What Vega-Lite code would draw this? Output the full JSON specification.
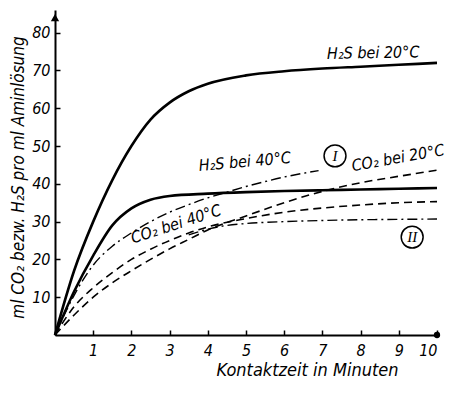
{
  "$schema": "https://vega.github.io/schema/vega-lite/v6.json",
  "width": 382,
  "height": 325,
  "autosize": {"type": "none"},
  "padding": {"left": 55, "top": 10, "right": 13, "bottom": 59},
  "background": "white",
  "config": {
    "view": {"stroke": null},
    "font": "DejaVu Sans Condensed",
    "axis": {"grid": false, "domainColor": "black", "domainWidth": 2, "tickColor": "black", "tickWidth": 1.5, "labelColor": "black", "titleColor": "black", "labelFontStyle": "italic", "titleFontStyle": "italic", "titleFontWeight": "normal", "labelFontSize": 16, "titleFontSize": 17, "labelFont": "DejaVu Sans Condensed", "titleFont": "DejaVu Sans Condensed"}
  },
  "datasets": {
    "curves": [
      {"series": "H2S20", "x": 0, "y": 0}, {"series": "H2S20", "x": 0.5, "y": 17}, {"series": "H2S20", "x": 1, "y": 30}, {"series": "H2S20", "x": 1.5, "y": 41}, {"series": "H2S20", "x": 2, "y": 50}, {"series": "H2S20", "x": 2.5, "y": 57}, {"series": "H2S20", "x": 3, "y": 61.5}, {"series": "H2S20", "x": 3.5, "y": 64.5}, {"series": "H2S20", "x": 4, "y": 66.5}, {"series": "H2S20", "x": 5, "y": 68.7}, {"series": "H2S20", "x": 6, "y": 69.8}, {"series": "H2S20", "x": 7, "y": 70.5}, {"series": "H2S20", "x": 8, "y": 71}, {"series": "H2S20", "x": 9, "y": 71.5}, {"series": "H2S20", "x": 10, "y": 72},
      {"series": "H2S40", "x": 0, "y": 0}, {"series": "H2S40", "x": 0.5, "y": 11.5}, {"series": "H2S40", "x": 1, "y": 21}, {"series": "H2S40", "x": 1.5, "y": 29}, {"series": "H2S40", "x": 2, "y": 33.5}, {"series": "H2S40", "x": 2.5, "y": 35.8}, {"series": "H2S40", "x": 3, "y": 36.8}, {"series": "H2S40", "x": 4, "y": 37.4}, {"series": "H2S40", "x": 5, "y": 37.8}, {"series": "H2S40", "x": 6, "y": 38.1}, {"series": "H2S40", "x": 7, "y": 38.3}, {"series": "H2S40", "x": 8, "y": 38.5}, {"series": "H2S40", "x": 9, "y": 38.7}, {"series": "H2S40", "x": 10, "y": 38.9},
      {"series": "CO240", "x": 0, "y": 0}, {"series": "CO240", "x": 0.5, "y": 7.5}, {"series": "CO240", "x": 1, "y": 12.5}, {"series": "CO240", "x": 1.5, "y": 16.5}, {"series": "CO240", "x": 2, "y": 20}, {"series": "CO240", "x": 2.5, "y": 22.7}, {"series": "CO240", "x": 3, "y": 25}, {"series": "CO240", "x": 3.5, "y": 27}, {"series": "CO240", "x": 4, "y": 28.6}, {"series": "CO240", "x": 5, "y": 30.8}, {"series": "CO240", "x": 6, "y": 32.5}, {"series": "CO240", "x": 7, "y": 33.6}, {"series": "CO240", "x": 8, "y": 34.4}, {"series": "CO240", "x": 9, "y": 35}, {"series": "CO240", "x": 10, "y": 35.3},
      {"series": "CO220", "x": 0, "y": 0}, {"series": "CO220", "x": 0.5, "y": 5.3}, {"series": "CO220", "x": 1, "y": 10}, {"series": "CO220", "x": 1.5, "y": 13.8}, {"series": "CO220", "x": 2, "y": 17}, {"series": "CO220", "x": 2.5, "y": 20}, {"series": "CO220", "x": 3, "y": 22.8}, {"series": "CO220", "x": 3.5, "y": 25.3}, {"series": "CO220", "x": 4, "y": 27.8}, {"series": "CO220", "x": 5, "y": 31.5}, {"series": "CO220", "x": 6, "y": 35}, {"series": "CO220", "x": 7, "y": 38}, {"series": "CO220", "x": 8, "y": 40.3}, {"series": "CO220", "x": 9, "y": 42}, {"series": "CO220", "x": 10, "y": 43.6},
      {"series": "I", "x": 0, "y": 0}, {"series": "I", "x": 0.5, "y": 10.5}, {"series": "I", "x": 1, "y": 18.5}, {"series": "I", "x": 1.5, "y": 23.5}, {"series": "I", "x": 2, "y": 27}, {"series": "I", "x": 2.5, "y": 30}, {"series": "I", "x": 3, "y": 32.5}, {"series": "I", "x": 3.5, "y": 34.5}, {"series": "I", "x": 4, "y": 36.3}, {"series": "I", "x": 4.5, "y": 37.8}, {"series": "I", "x": 5, "y": 39.3}, {"series": "I", "x": 5.5, "y": 40.6}, {"series": "I", "x": 6, "y": 41.8}, {"series": "I", "x": 6.5, "y": 42.8}, {"series": "I", "x": 6.9, "y": 43.5},
      {"series": "II", "x": 3.5, "y": 26.5}, {"series": "II", "x": 4, "y": 28}, {"series": "II", "x": 4.5, "y": 29}, {"series": "II", "x": 5, "y": 29.5}, {"series": "II", "x": 6, "y": 30}, {"series": "II", "x": 7, "y": 30.3}, {"series": "II", "x": 8, "y": 30.5}, {"series": "II", "x": 9, "y": 30.6}, {"series": "II", "x": 10, "y": 30.7}
    ]
  },
  "encoding": {
    "x": {"field": "x", "type": "quantitative", "scale": {"domain": [0, 10], "nice": false},
      "axis": {"values": [1, 2, 3, 4, 5, 6, 7, 8, 9, 10], "tickSize": -5, "labelPadding": 12, "title": "Kontaktzeit in Minuten", "titlePadding": 3, "titleX": 252, "titleAlign": "center", "titleFontSize": 18}},
    "y": {"field": "y", "type": "quantitative", "scale": {"domain": [0, 86], "nice": false},
      "axis": {"values": [10, 20, 30, 40, 50, 60, 70, 80], "tickSize": -5, "labelPadding": 10, "title": "ml CO₂ bezw. H₂S pro ml Aminlösung", "titlePadding": 4, "titleY": 167}}
  },
  "layer": [
    {"data": {"name": "curves"}, "transform": [{"filter": {"field": "series", "oneOf": ["H2S20", "H2S40"]}}],
      "mark": {"type": "line", "interpolate": "monotone", "color": "black", "strokeWidth": 2.6},
      "encoding": {"detail": {"field": "series"}}},
    {"data": {"name": "curves"}, "transform": [{"filter": {"field": "series", "oneOf": ["CO220", "CO240"]}}],
      "mark": {"type": "line", "interpolate": "monotone", "color": "black", "strokeWidth": 1.6, "strokeDash": [8, 5]},
      "encoding": {"detail": {"field": "series"}}},
    {"data": {"name": "curves"}, "transform": [{"filter": {"field": "series", "oneOf": ["I", "II"]}}],
      "mark": {"type": "line", "interpolate": "monotone", "color": "black", "strokeWidth": 1.4, "strokeDash": [10, 4, 2, 4]},
      "encoding": {"detail": {"field": "series"}}},
    {"data": {"values": [{"x": 10, "y": 0}]}, "mark": {"type": "point", "shape": "circle", "filled": true, "color": "black", "size": 40, "opacity": 1}},
    {"data": {"values": [{"x": 0, "y": 84}]}, "mark": {"type": "point", "shape": "triangle-up", "filled": true, "color": "black", "size": 70, "opacity": 1}},
    {"data": {"values": [{"x": 7.33, "y": 47.4, "t": "I"}, {"x": 9.35, "y": 25.9, "t": "II"}]},
      "layer": [
        {"mark": {"type": "point", "shape": "circle", "filled": false, "color": "black", "strokeWidth": 1.5, "size": 480, "opacity": 1}},
        {"mark": {"type": "text", "font": "Liberation Serif", "fontStyle": "italic", "fontSize": 15, "color": "black", "align": "center", "baseline": "middle"}, "encoding": {"text": {"field": "t"}}}
      ]},
    {"data": {"values": [{"x": 8.33, "y": 74.6, "t": "H₂S bei 20°C"}]}, "mark": {"type": "text", "fontStyle": "italic", "fontSize": 16, "color": "black", "angle": -1}, "encoding": {"text": {"field": "t"}}},
    {"data": {"values": [{"x": 4.97, "y": 45.8, "t": "H₂S bei 40°C"}]}, "mark": {"type": "text", "fontStyle": "italic", "fontSize": 16, "color": "black", "angle": -5}, "encoding": {"text": {"field": "t"}}},
    {"data": {"values": [{"x": 3.17, "y": 29.3, "t": "CO₂ bei 40°C"}]}, "mark": {"type": "text", "fontStyle": "italic", "fontSize": 16, "color": "black", "angle": -18}, "encoding": {"text": {"field": "t"}}},
    {"data": {"values": [{"x": 8.98, "y": 46.8, "t": "CO₂ bei 20°C"}]}, "mark": {"type": "text", "fontStyle": "italic", "fontSize": 16, "color": "black", "angle": -10}, "encoding": {"text": {"field": "t"}}}
  ]
}
